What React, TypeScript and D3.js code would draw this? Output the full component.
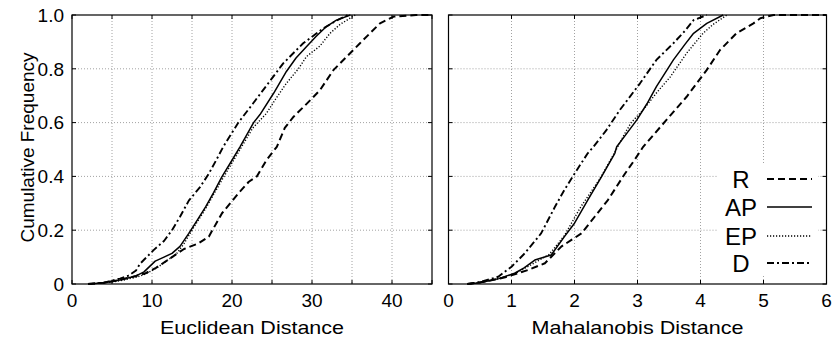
import React from "react";
import * as d3 from "d3";

type Pt = [number, number];

// ---------- Data: Euclidean distance CDFs ----------
const euclidR: Pt[] = [[2,0],[4,0.005],[6,0.015],[8,0.03],[9.2,0.04],[10.5,0.06],[12.5,0.1],[14,0.13],[15.8,0.151],[17.1,0.176],[18.75,0.263],[20.8,0.337],[22.1,0.38],[23.1,0.4],[24.3,0.46],[25.6,0.51],[26.6,0.58],[27.7,0.622],[29,0.66],[30.2,0.696],[31,0.721],[32.7,0.796],[33.5,0.82],[36,0.895],[38.5,0.969],[40.2,0.994],[43,1],[45,1]];
const euclidAP: Pt[] = [[2,0],[4,0.005],[6,0.015],[8,0.03],[9,0.045],[10.4,0.085],[11.5,0.1],[12.5,0.114],[13.5,0.14],[14.6,0.188],[15.5,0.23],[16.7,0.287],[17.7,0.34],[18.75,0.399],[20,0.46],[21,0.51],[22.7,0.6],[23.5,0.63],[25.2,0.709],[26.8,0.79],[28,0.84],[29.3,0.882],[30.5,0.92],[31.8,0.957],[33,0.98],[34.8,1]];
const euclidEP: Pt[] = [[2,0],[4,0.004],[6,0.012],[8,0.025],[9,0.035],[10,0.05],[10.8,0.064],[12,0.09],[13,0.11],[14,0.15],[15,0.2],[16.7,0.28],[18.8,0.39],[20,0.45],[21.2,0.51],[22.6,0.58],[24.3,0.634],[25.5,0.69],[26.8,0.746],[28.3,0.8],[29.3,0.845],[31,0.885],[32.25,0.932],[33.5,0.965],[35.4,1]];
const euclidD: Pt[] = [[2,0],[4,0.005],[6,0.02],[7,0.03],[8,0.05],[8.5,0.075],[9,0.09],[10.2,0.126],[11.5,0.16],[12.5,0.2],[13.5,0.25],[14.6,0.31],[16,0.36],[17.1,0.41],[18.2,0.47],[18.9,0.51],[20.8,0.6],[22.6,0.67],[24.5,0.745],[26.4,0.82],[28.9,0.895],[30.5,0.93],[31.4,0.95],[33.1,0.98],[34.5,1]];

// ---------- Data: Mahalanobis distance CDFs ----------
const mahaR: Pt[] = [[0.3,0],[0.6,0.01],[0.9,0.025],[1.26,0.052],[1.53,0.077],[1.79,0.139],[2.11,0.188],[2.32,0.25],[2.53,0.312],[2.8,0.41],[2.95,0.46],[3.09,0.51],[3.46,0.61],[3.78,0.696],[4.1,0.796],[4.31,0.87],[4.57,0.932],[4.84,0.969],[4.95,0.988],[5.16,1],[6,1]];
const mahaAP: Pt[] = [[0.3,0],[0.5,0.005],[0.8,0.02],[1.05,0.04],[1.2,0.06],[1.37,0.089],[1.63,0.108],[1.84,0.176],[2.0,0.226],[2.21,0.312],[2.43,0.399],[2.64,0.486],[2.67,0.51],[2.83,0.56],[2.99,0.61],[3.15,0.67],[3.3,0.734],[3.57,0.833],[3.75,0.89],[3.89,0.932],[4.1,0.969],[4.36,1]];
const mahaEP: Pt[] = [[0.3,0],[0.5,0.005],[0.8,0.02],[1.05,0.038],[1.3,0.07],[1.6,0.11],[1.84,0.18],[2.1,0.287],[2.4,0.39],[2.64,0.49],[2.8,0.56],[2.9,0.6],[3.09,0.647],[3.3,0.71],[3.52,0.77],[3.78,0.858],[4.04,0.932],[4.2,0.965],[4.42,1]];
const mahaD: Pt[] = [[0.3,0],[0.5,0.007],[0.79,0.027],[1.0,0.064],[1.21,0.114],[1.47,0.188],[1.69,0.287],[1.84,0.35],[2.0,0.41],[2.21,0.486],[2.3,0.51],[2.5,0.57],[2.72,0.647],[3.04,0.746],[3.3,0.833],[3.57,0.895],[3.75,0.94],[3.89,0.981],[4.1,1]];

const seriesNames = ["R", "AP", "EP", "D"];
const yTicks = [0, 0.2, 0.4, 0.6, 0.8, 1.0];
const yTickLabels = ["0", "0.2", "0.4", "0.6", "0.8", "1.0"];
const euclidTicks = [0, 5, 10, 15, 20, 25, 30, 35, 40, 45];
const euclidLabels = [0, 10, 20, 30, 40];
const mahaTicks = [0, 1, 2, 3, 4, 5, 6];

const FONT = "'Liberation Sans', Arial, Helvetica, sans-serif";

const styles: Record<string, { dash?: string; w: number }> = {
  R: { dash: "7,4", w: 2 },
  AP: { w: 1.5 },
  EP: { dash: "1.2,1.8", w: 1.4 },
  D: { dash: "7,3,2,3", w: 1.9 },
};

const top = 15;
const bottom = 284;

function Panel({
  x0, x1, domain, ticks, labels, data, title, titleLen, showY,
}: {
  x0: number; x1: number; domain: [number, number]; ticks: number[]; labels: number[];
  data: Pt[][]; title: string; titleLen: number; showY: boolean;
}) {
  const x = d3.scaleLinear().domain(domain).range([x0, x1]);
  const y = d3.scaleLinear().domain([0, 1]).range([bottom, top]);
  const line = d3.line<Pt>().x((d) => x(d[0])).y((d) => y(d[1]));
  return (
    <g>
      {ticks.filter((t) => t > domain[0] && t < domain[1]).map((t) => (
        <line key={"gx" + t} x1={x(t)} x2={x(t)} y1={top} y2={bottom} stroke="#8a8a8a" strokeWidth={0.8} strokeDasharray="1,2" />
      ))}
      {yTicks.filter((t) => t > 0 && t < 1).map((t) => (
        <line key={"gy" + t} x1={x0} x2={x1} y1={y(t)} y2={y(t)} stroke="#8a8a8a" strokeWidth={0.8} strokeDasharray="1,2" />
      ))}
      {ticks.map((t) => (
        <g key={"tx" + t}>
          <line x1={x(t)} x2={x(t)} y1={bottom} y2={bottom - 4} stroke="#000" />
          <line x1={x(t)} x2={x(t)} y1={top} y2={top + 4} stroke="#000" />
        </g>
      ))}
      {yTicks.map((t) => (
        <g key={"ty" + t}>
          <line x1={x0} x2={x0 + 4} y1={y(t)} y2={y(t)} stroke="#000" />
          <line x1={x1} x2={x1 - 4} y1={y(t)} y2={y(t)} stroke="#000" />
        </g>
      ))}
      {data.map((d, i) => {
        const s = styles[seriesNames[i]];
        return (
          <path key={i} d={line(d) || ""} fill="none" stroke="#000" strokeWidth={s.w} strokeDasharray={s.dash} strokeLinejoin="round" />
        );
      })}
      <rect x={x0} y={top} width={x1 - x0} height={bottom - top} fill="none" stroke="#000" strokeWidth={1.2} />
      {labels.map((t) => (
        <text key={"lx" + t} x={x(t)} y={307} textAnchor="middle" fontSize={19} fontFamily={FONT}>{t}</text>
      ))}
      {showY && yTicks.map((t, i) => (
        <text key={"ly" + t} x={64} y={y(t)} dy="0.36em" textAnchor="end" fontSize={19} fontFamily={FONT}>{yTickLabels[i]}</text>
      ))}
      <text x={(x0 + x1) / 2} y={334} textAnchor="middle" fontSize={19} fontFamily={FONT} textLength={titleLen} lengthAdjust="spacingAndGlyphs">{title}</text>
    </g>
  );
}

export default function App() {
  const legendY = [179, 207, 236, 263];
  return (
    <div style={{ position: "absolute", left: 0, top: 0 }}>
      <svg width={832} height={340} style={{ display: "block", background: "#fff" }}>
        <rect width={832} height={340} fill="#fff" />
        <Panel x0={72} x1={432} domain={[0, 45]} ticks={euclidTicks} labels={euclidLabels}
          data={[euclidR, euclidAP, euclidEP, euclidD]} title="Euclidean Distance" titleLen={184} showY={true} />
        <Panel x0={448.5} x1={826.5} domain={[0, 6]} ticks={mahaTicks} labels={mahaTicks}
          data={[mahaR, mahaAP, mahaEP, mahaD]} title="Mahalanobis Distance" titleLen={212} showY={false} />
        <text transform="translate(34,147.5) rotate(-90)" textAnchor="middle" fontSize={19} fontFamily={FONT}>Cumulative Frequency</text>
        <rect x={718} y={164} width={100} height={112} fill="#fff" />
        {seriesNames.map((n, i) => {
          const s = styles[n];
          return (
            <g key={n}>
              <text x={741} y={legendY[i]} dy="0.36em" textAnchor="middle" fontSize={24} fontFamily={FONT}>{n}</text>
              <line x1={767} x2={812} y1={legendY[i]} y2={legendY[i]} stroke="#000" strokeWidth={s.w} strokeDasharray={s.dash} />
            </g>
          );
        })}
      </svg>
    </div>
  );
}
